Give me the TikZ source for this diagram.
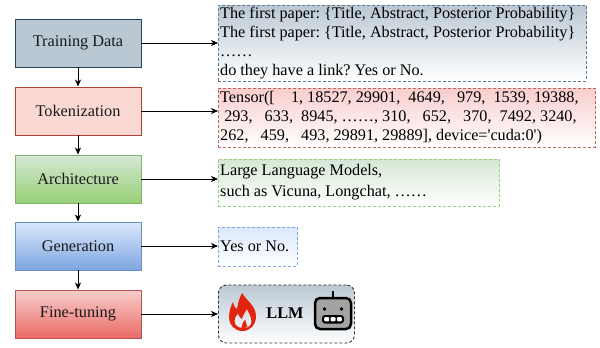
\documentclass[tikz,border=0pt]{standalone}
\usepackage{fontspec}
\setmainfont{Liberation Serif}[Ligatures=TeXOff]
\usetikzlibrary{arrows.meta}
\definecolor{tdFill}{HTML}{BAC8D3}
\definecolor{tdLine}{HTML}{23445D}
\definecolor{tdNote}{HTML}{5F7D95}
\definecolor{tkFill}{HTML}{FAD9D5}
\definecolor{tkLine}{HTML}{AE4132}
\definecolor{tkTop}{HTML}{F8CECC}
\definecolor{tkNote}{HTML}{C0655E}
\definecolor{arTop}{HTML}{D5E8D4}
\definecolor{arBot}{HTML}{97D077}
\definecolor{arLine}{HTML}{82B366}
\definecolor{geTop}{HTML}{DAE8FC}
\definecolor{geBot}{HTML}{7EA6E0}
\definecolor{geLine}{HTML}{6C8EBF}
\definecolor{ftTop}{HTML}{F8CECC}
\definecolor{ftBot}{HTML}{EA6B66}
\definecolor{ftLine}{HTML}{B85450}
\definecolor{flameRed}{HTML}{E0240E}
\definecolor{robotGray}{HTML}{A3A3A3}
\begin{document}
\frenchspacing
\begin{tikzpicture}[x=1pt,y=-1pt,
  stagebox/.style={draw, line width=0.9pt, minimum width=126pt, minimum height=48pt,
    inner sep=0pt, font=\fontsize{16.3}{19}\selectfont, text=black!90},
  notebox/.style={dash pattern=on 3pt off 2pt, line width=0.9pt, inner sep=0pt, anchor=west},
  notetext/.style={inner xsep=2pt, inner ysep=0pt, align=left, anchor=west,
    font=\fontsize{16.2}{19.3}\selectfont},
  arr/.style={-{Stealth[length=7pt,width=6pt,inset=2pt]}, line width=0.9pt}]
\useasboundingbox (0,0) rectangle (600,348);

% left stage boxes
\node[stagebox, draw=tdLine, fill=tdFill] (a) at (78,43) {Training Data};
\node[stagebox, draw=tkLine, fill=tkFill] (b) at (78,111) {Tokenization};
\node[stagebox, draw=arLine, top color=arTop, bottom color=arBot] (c) at (78,179) {Architecture};
\node[stagebox, draw=geLine, top color=geTop, bottom color=geBot] (d) at (78,246) {Generation};
\node[stagebox, draw=ftLine, top color=ftTop, bottom color=ftBot] (e) at (78,314) {Fine-tuning};

% right note boxes
\node[notebox, draw=tdNote, top color=tdFill, bottom color=white,
  minimum width=368pt, minimum height=76pt] (ta) at (218,43) {};
\node[notetext] (tat) at (ta.west)
  {The first paper: \{Title, Abstract, Posterior Probability\}\\
   The first paper: \{Title, Abstract, Posterior Probability\}\\
   ……\\
   do they have a link? Yes or No.};
\node[notebox, draw=tkNote, top color=tkTop, bottom color=white,
  minimum width=377pt, minimum height=59pt] (tb) at (218,117.5) {};
\node[notetext, font=\fontsize{16.2}{19}\selectfont] (tbt) at (tb.west)
  {Tensor([\ \ \ \ 1, 18527, 29901,\ \ 4649,\ \ \ 979,\ \ 1539, 19388,\\
   \ 293,\ \ \ 633,\ \ 8945, ……, 310,\ \ \ 652,\ \ \ 370,\ \ 7492, 3240,\\
   262,\ \ \ 459,\ \ \ 493, 29891, 29889], device='cuda:0')};
\node[notebox, draw=arBot, top color=arTop, bottom color=white,
  minimum width=281pt, minimum height=47pt] (tc) at (218,182.5) {};
\node[notetext, font=\fontsize{16.2}{21}\selectfont] (tct) at (tc.west)
  {Large Language Models,\\such as Vicuna, Longchat, ……};
\node[notebox, draw=geBot, top color=geTop, bottom color=white,
  minimum width=79pt, minimum height=39pt] (td) at (218,246.5) {};
\node[notetext] (tdt) at (td.west) {Yes or No.};
\node[notebox, draw=black!80, rounded corners=8pt, top color=tdFill, bottom color=white,
  minimum width=136pt, minimum height=58pt] (te) at (218,314) {};

\node[font=\fontsize{16.3}{19}\selectfont\bfseries] (llm) at (285,313) {LLM};

% flame icon
\fill[flameRed, even odd rule]
  (242,293) .. controls (246,300) and (256,306) .. (256,316)
  .. controls (256,325) and (250,331) .. (242.5,331)
  .. controls (235,331) and (229,325) .. (229,318)
  .. controls (229,311) and (231,306) .. (233,302)
  .. controls (234,306) and (235,308) .. (237,309)
  .. controls (238,302) and (240,297) .. (242,293) -- cycle
  (247,309) .. controls (249.5,314) and (251.5,318) .. (251.5,322)
  .. controls (251.5,326) and (247.5,328) .. (243,328)
  .. controls (238,328) and (234.5,325) .. (234.5,321)
  .. controls (234.5,318) and (236,315.5) .. (238,313.5)
  .. controls (239,316.5) and (240,318) .. (242,319)
  .. controls (243,315) and (245,312) .. (247,309) -- cycle
  (241.5,328) .. controls (242,324) and (243.5,321) .. (245,319.5)
  .. controls (246,322) and (247,325) .. (247.5,328) -- cycle;

% robot icon
\draw[line width=2.2pt] (333,298) -- (333,291);
\draw[line width=2.5pt, rounded corners=5pt, fill=robotGray] (315,298) rectangle (351,329);
\fill (324.5,309) circle (1.9pt);
\fill (341.5,309) circle (1.9pt);
\fill[rounded corners=3pt] (322,315) rectangle (344,323.5);
\fill[white, rounded corners=1pt] (324.2,317.2) rectangle (329.2,321.3);
\fill[white, rounded corners=1pt] (330.5,317.2) rectangle (335.5,321.3);
\fill[white, rounded corners=1pt] (336.8,317.2) rectangle (341.8,321.3);

% vertical arrows
\draw[arr] (a.south) -- (b.north);
\draw[arr] (b.south) -- (c.north);
\draw[arr] (c.south) -- (d.north);
\draw[arr] (d.south) -- (e.north);

% horizontal arrows
\draw[arr] (a.east) -- (a.east -| ta.west);
\draw[arr] (b.east) -- (b.east -| tb.west);
\draw[arr] (c.east) -- (c.east -| tc.west);
\draw[arr] (d.east) -- (d.east -| td.west);
\draw[arr] (e.east) -- (e.east -| te.west);
\end{tikzpicture}
\end{document}
